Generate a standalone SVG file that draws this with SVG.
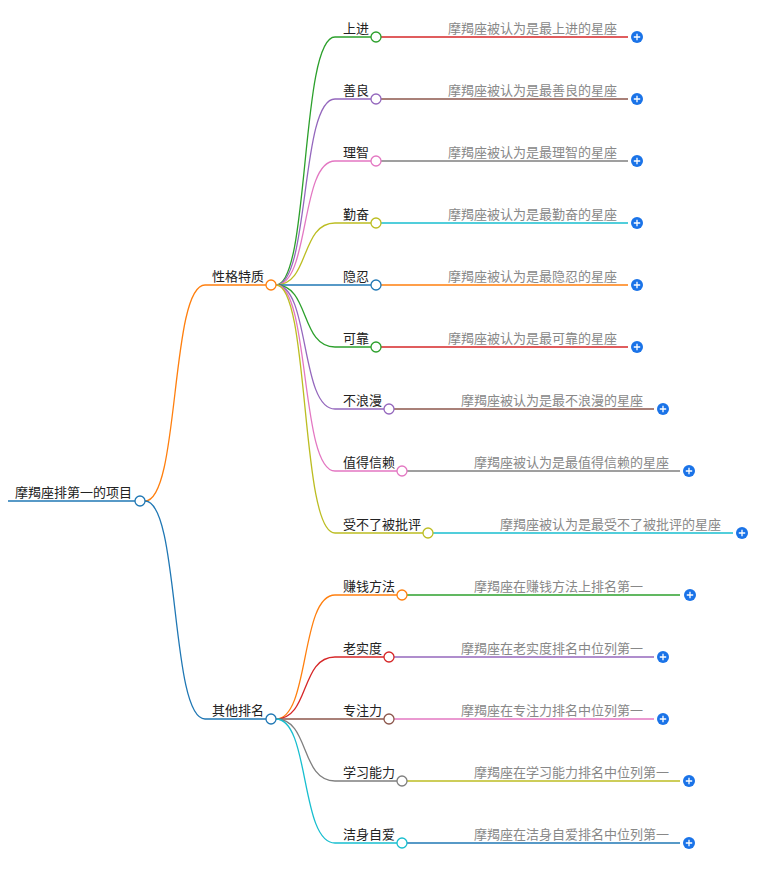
<svg xmlns="http://www.w3.org/2000/svg" width="768" height="869" viewBox="0 0 768 869">
<style>
text{font-family:"Noto Sans CJK SC","Liberation Sans",sans-serif;font-size:13px}
.n{fill:#222}.l{fill:#888}
path,line{fill:none;stroke-width:1.3}
circle.c{fill:#fff;stroke-width:1.3}
</style>
<defs><g id="plus"><circle r="6" fill="#1a73e8"/><path d="M-3.2 0H3.2M0 -3.2V3.2" stroke="#fff" stroke-width="1.6"/></g></defs>
<rect width="768" height="869" fill="#fff"/>
<g id="connectors">
<line x1="8" y1="501" x2="135" y2="501" stroke="#1f77b4" stroke-width="3"/>
<path d="M145 501C180 501 170 285 205 285H266" stroke="#ff7f0e"/>
<path d="M145 501C180 501 170 719 205 719H266" stroke="#1f77b4"/>
<path d="M276 285C310 285 300 37 335 37H371" stroke="#2ca02c"/>
<path d="M276 285C310 285 300 99 335 99H371" stroke="#9467bd"/>
<path d="M276 285C310 285 300 161 335 161H371" stroke="#e377c2"/>
<path d="M276 285C310 285 300 223 335 223H371" stroke="#bcbd22"/>
<path d="M276 285H371" stroke="#1f77b4"/>
<path d="M276 285C310 285 300 347 335 347H371" stroke="#2ca02c"/>
<path d="M276 285C310 285 300 409 335 409H384" stroke="#9467bd"/>
<path d="M276 285C310 285 300 471 335 471H397" stroke="#e377c2"/>
<path d="M276 285C310 285 300 533 335 533H423" stroke="#bcbd22"/>
<path d="M276 719C310 719 300 595 335 595H397" stroke="#ff7f0e"/>
<path d="M276 719C310 719 300 657 335 657H384" stroke="#d62728"/>
<path d="M276 719H384" stroke="#8c564b"/>
<path d="M276 719C310 719 300 781 335 781H397" stroke="#7f7f7f"/>
<path d="M276 719C310 719 300 843 335 843H397" stroke="#17becf"/>
<line x1="381" y1="37" x2="628" y2="37" stroke="#d62728"/>
<line x1="381" y1="99" x2="628" y2="99" stroke="#8c564b"/>
<line x1="381" y1="161" x2="628" y2="161" stroke="#7f7f7f"/>
<line x1="381" y1="223" x2="628" y2="223" stroke="#17becf"/>
<line x1="381" y1="285" x2="628" y2="285" stroke="#ff7f0e"/>
<line x1="381" y1="347" x2="628" y2="347" stroke="#d62728"/>
<line x1="394" y1="409" x2="654" y2="409" stroke="#8c564b"/>
<line x1="407" y1="471" x2="680" y2="471" stroke="#7f7f7f"/>
<line x1="433" y1="533" x2="733" y2="533" stroke="#17becf"/>
<line x1="407" y1="595" x2="680" y2="595" stroke="#2ca02c"/>
<line x1="394" y1="657" x2="654" y2="657" stroke="#9467bd"/>
<line x1="394" y1="719" x2="654" y2="719" stroke="#e377c2"/>
<line x1="407" y1="781" x2="680" y2="781" stroke="#bcbd22"/>
<line x1="407" y1="843" x2="680" y2="843" stroke="#1f77b4"/>
</g>
<g id="root"><text class="n" x="15" y="497">摩羯座排第一的项目</text><circle class="c" cx="140" cy="501" r="5" stroke="#1f77b4"/></g>
<g id="n1"><text class="n" x="212" y="281">性格特质</text><circle class="c" cx="271" cy="285" r="5" stroke="#ff7f0e"/></g>
<g id="n2"><text class="n" x="212" y="715">其他排名</text><circle class="c" cx="271" cy="719" r="5" stroke="#1f77b4"/></g>
<g id="a1"><text class="n" x="343" y="33">上进</text><circle class="c" cx="376" cy="37" r="5" stroke="#2ca02c"/><text class="l" x="448" y="33">摩羯座被认为是最上进的星座</text><use href="#plus" x="637" y="37"/></g>
<g id="a2"><text class="n" x="343" y="95">善良</text><circle class="c" cx="376" cy="99" r="5" stroke="#9467bd"/><text class="l" x="448" y="95">摩羯座被认为是最善良的星座</text><use href="#plus" x="637" y="99"/></g>
<g id="a3"><text class="n" x="343" y="157">理智</text><circle class="c" cx="376" cy="161" r="5" stroke="#e377c2"/><text class="l" x="448" y="157">摩羯座被认为是最理智的星座</text><use href="#plus" x="637" y="161"/></g>
<g id="a4"><text class="n" x="343" y="219">勤奋</text><circle class="c" cx="376" cy="223" r="5" stroke="#bcbd22"/><text class="l" x="448" y="219">摩羯座被认为是最勤奋的星座</text><use href="#plus" x="637" y="223"/></g>
<g id="a5"><text class="n" x="343" y="281">隐忍</text><circle class="c" cx="376" cy="285" r="5" stroke="#1f77b4"/><text class="l" x="448" y="281">摩羯座被认为是最隐忍的星座</text><use href="#plus" x="637" y="285"/></g>
<g id="a6"><text class="n" x="343" y="343">可靠</text><circle class="c" cx="376" cy="347" r="5" stroke="#2ca02c"/><text class="l" x="448" y="343">摩羯座被认为是最可靠的星座</text><use href="#plus" x="637" y="347"/></g>
<g id="a7"><text class="n" x="343" y="405">不浪漫</text><circle class="c" cx="389" cy="409" r="5" stroke="#9467bd"/><text class="l" x="461" y="405">摩羯座被认为是最不浪漫的星座</text><use href="#plus" x="663" y="409"/></g>
<g id="a8"><text class="n" x="343" y="467">值得信赖</text><circle class="c" cx="402" cy="471" r="5" stroke="#e377c2"/><text class="l" x="474" y="467">摩羯座被认为是最值得信赖的星座</text><use href="#plus" x="689" y="471"/></g>
<g id="a9"><text class="n" x="343" y="529">受不了被批评</text><circle class="c" cx="428" cy="533" r="5" stroke="#bcbd22"/><text class="l" x="500" y="529">摩羯座被认为是最受不了被批评的星座</text><use href="#plus" x="742" y="533"/></g>
<g id="b1"><text class="n" x="343" y="591">赚钱方法</text><circle class="c" cx="402" cy="595" r="5" stroke="#ff7f0e"/><text class="l" x="474" y="591">摩羯座在赚钱方法上排名第一</text><use href="#plus" x="690" y="595"/></g>
<g id="b2"><text class="n" x="343" y="653">老实度</text><circle class="c" cx="389" cy="657" r="5" stroke="#d62728"/><text class="l" x="461" y="653">摩羯座在老实度排名中位列第一</text><use href="#plus" x="663" y="657"/></g>
<g id="b3"><text class="n" x="343" y="715">专注力</text><circle class="c" cx="389" cy="719" r="5" stroke="#8c564b"/><text class="l" x="461" y="715">摩羯座在专注力排名中位列第一</text><use href="#plus" x="663" y="719"/></g>
<g id="b4"><text class="n" x="343" y="777">学习能力</text><circle class="c" cx="402" cy="781" r="5" stroke="#7f7f7f"/><text class="l" x="474" y="777">摩羯座在学习能力排名中位列第一</text><use href="#plus" x="689" y="781"/></g>
<g id="b5"><text class="n" x="343" y="839">洁身自爱</text><circle class="c" cx="402" cy="843" r="5" stroke="#17becf"/><text class="l" x="474" y="839">摩羯座在洁身自爱排名中位列第一</text><use href="#plus" x="689" y="843"/></g>
</svg>
